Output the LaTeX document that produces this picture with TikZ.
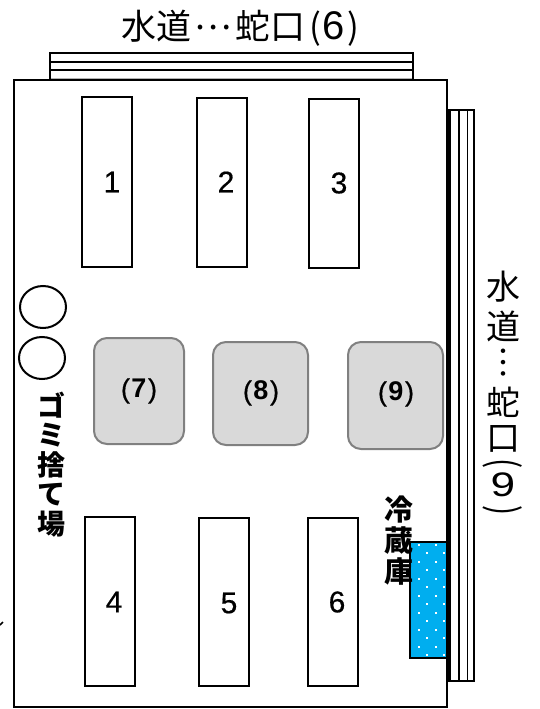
\documentclass[tikz,border=0pt]{standalone}
\usepackage{fontspec}
\setmainfont{Liberation Sans}
\newfontfamily\cjk{Noto Sans CJK JP}
\newfontfamily\numfont[FakeBold=0.5]{Liberation Sans}
\newfontfamily\parenfont[FakeBold=0.6]{Liberation Sans}
\usetikzlibrary{shapes.geometric}
\definecolor{iceblue}{RGB}{0,174,239}
\newcommand{\glabtext}[1]{{\parenfont(}\kern1.5pt{\bfseries #1}\kern1.5pt{\parenfont)}}
\tikzset{
  x=1pt,y=-1pt,
  bed/.style={draw=black,line width=2.2pt,fill=white,minimum width=50pt,inner sep=0pt},
  num/.style={font=\numfont\fontsize{30}{32}\selectfont,text=black},
  gbox/.style={draw=black!50,line width=2pt,fill=black!15,rounded corners=13pt,inner sep=0pt},
  glab/.style={font=\fontsize{27}{29}\selectfont},
  circ/.style={draw=black,line width=2pt,ellipse,fill=white,inner sep=0pt},
  thinlab/.style={font=\cjk\fontsize{34}{36}\selectfont,inner sep=0pt},
  arclab/.style={font=\cjk\fontsize{30}{30}\selectfont,inner sep=0pt},
  sidelab/.style={font=\cjk\bfseries\fontsize{28}{29.5}\selectfont,inner sep=0pt,align=center},
  fridgelab/.style={font=\cjk\bfseries\fontsize{29}{31}\selectfont,inner sep=0pt,align=center}
}
\begin{document}
\begin{tikzpicture}
\useasboundingbox (0,0) rectangle (540,709);
% top pipe
\fill[black!30] (50,78) rectangle (413,80);
\draw[line width=2pt] (50,80) -- (50,53) -- (413,53) -- (413,80);
\draw[line width=1.2pt] (50,62) -- (413,62);
\draw[line width=2pt] (50,70) -- (413,70);
\node[thinlab,font=\cjk\fontsize{35}{36}\selectfont] (toplabel) at (240,28) {水道\kern3pt\raisebox{10pt}{…}\kern4pt蛇口\kern4pt(\kern2pt{\fontspec{Liberation Sans}\fontsize{40}{40}\selectfont 6}\kern2pt)};
% right pipe
\draw[line width=2pt] (447,109.5) -- (474,109.5) -- (474,680.5) -- (447,680.5);
\draw[line width=1.8pt] (459,109.5) -- (459,680.5);
\draw[line width=1.5pt] (467.5,109.5) -- (467.5,680.5);
% hall
\draw[line width=2.2pt,fill=white] (14,80) rectangle (447,707);
\fill (446,109) rectangle (451,680);
% fridge
\fill[iceblue] (410,542) rectangle (446,658);
\foreach \xx in {419,436}{\foreach \yy in {544.7,561.7,578.7,595.7,612.7,629.7,646.7}{
  \fill[white] (\xx-1,\yy-1) rectangle (\xx+1,\yy+1);}}
\foreach \xx in {427,444}{\foreach \yy in {553,570,587,604,621,638,655}{
  \fill[white] (\xx-1,\yy-1) rectangle (\xx+1,\yy+1);}}
\draw[line width=2.5pt] (446,542) -- (410,542) -- (410,658) -- (446,658);
% racks
\node[bed,minimum height=170pt] (r1) at (107,182) {};
\node[bed,minimum height=169pt] (r2) at (222,182.5) {};
\node[bed,minimum height=169pt] (r3) at (334,183.5) {};
\node[bed,minimum height=169pt] (r4) at (110,601.5) {};
\node[bed,minimum height=168pt] (r5) at (224,602) {};
\node[bed,minimum height=168pt] (r6) at (333,602) {};
\node[num] (n1) at (112,182) {1};
\node[num] (n2) at (226,182) {2};
\node[num] (n3) at (339,183) {3};
\node[num] (n4) at (114,602) {4};
\node[num] (n5) at (229,603) {5};
\node[num] (n6) at (337,602) {6};
% grey boxes
\node[gbox,minimum width=90pt,minimum height=106pt] (g7) at (139,391) {};
\node[gbox,minimum width=95pt,minimum height=103pt] (g8) at (260.5,393.5) {};
\node[gbox,minimum width=95pt,minimum height=107pt] (g9) at (395.5,395.5) {};
\node[glab] (l7) at (139,391) {\glabtext{7}};
\node[glab] (l8) at (261,393) {\glabtext{8}};
\node[glab] (l9) at (396,394) {\glabtext{9}};
% circles
\node[circ,minimum width=46pt,minimum height=42pt] (c1) at (43,307) {};
\node[circ,minimum width=46pt,minimum height=42pt] (c2) at (42,358) {};
% labels
\node[sidelab] (trash) at (51,464.5) {ゴ\\ミ\\捨\\て\\場};
\node[fridgelab] (fridge) at (399,541) {冷\\蔵\\庫};
\node[thinlab] (v1) at (503,287) {水};
\node[thinlab] (v2) at (503,326) {道};
\node[thinlab] (v3) at (503,363) {︙};
\node[thinlab] (v4) at (503,402) {蛇};
\node[thinlab] (v5) at (503,439) {口};
\node[arclab] (v6) at (503,464) {\rotatebox{-90}{\scalebox{1}[1.3]{(}}};
\node[thinlab] (v7) at (503,485) {{\fontspec{Liberation Sans}\fontsize{34}{34}\selectfont\scalebox{1.3}[1]{9}}};
\node[arclab] (v8) at (503,511) {\rotatebox{-90}{\scalebox{1}[1.3]{)}}};
% stray mark
\coordinate (m1) at (0,625);
\coordinate (m2) at (3,622);
\draw[line width=1.5pt] (m1) -- (m2);
\end{tikzpicture}
\end{document}
